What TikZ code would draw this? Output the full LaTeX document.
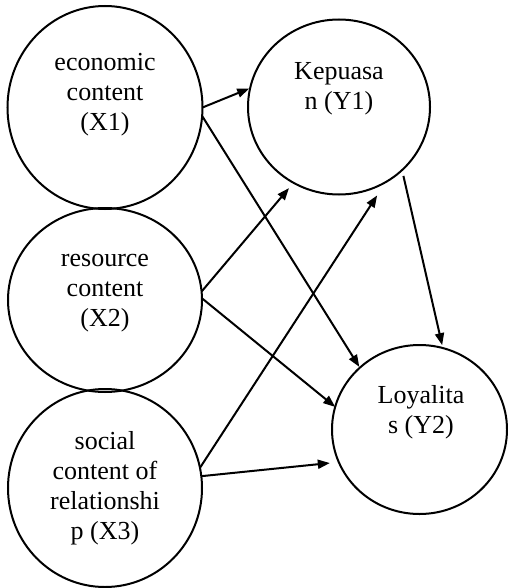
\documentclass[tikz,border=0pt]{standalone}
\usepackage{fontspec}
\setmainfont{Liberation Serif}
\usetikzlibrary{shapes.geometric,arrows.meta}
\begin{document}
\begin{tikzpicture}[x=1pt,y=-1pt,
  latent/.style={draw,ellipse,line width=2pt,inner sep=0pt,outer sep=0pt},
  lbl/.style={align=center,font=\fontsize{26}{30}\selectfont,inner sep=0pt},
  path/.style={line width=2pt,-{Triangle[length=12pt,width=9pt]}}]
\useasboundingbox (0,0) rectangle (507,588);
% latent variables
\node[latent,minimum width=195pt,minimum height=203pt] (x1) at (105,107.5) {};
\node[latent,minimum width=194pt,minimum height=184pt] (x2) at (105,300) {};
\node[latent,minimum width=194pt,minimum height=198pt] (x3) at (105,488) {};
\node[latent,minimum width=182pt,minimum height=175pt] (y1) at (339,107) {};
\node[latent,minimum width=175pt,minimum height=169pt] (y2) at (419.5,429.5) {};
% labels
\node[lbl] (x1t) at (105,95) {economic\\content\\(X1)};
\node[lbl] (x2t) at (105,293) {resource\\content\\(X2)};
\node[lbl] (x3t) at (105,488) {social\\content of\\relationshi\\p (X3)};
\node[lbl] (y1t) at (339,89) {Kepuasa\\n (Y1)};
\node[lbl] (y2t) at (421,412) {Loyalita\\s (Y2)};
% paths
\draw[path,shorten >=1pt] (x1.0) -- (y1.168);
\draw[path,shorten >=1pt] (x1.-5.6) -- (y2.134.5);
\draw[path,shorten >=7pt] (x2.5) -- (y1.239);
\draw[path] (x2.1) -- (y2.165);
\draw[path,shorten >=16pt] (x3.12) -- (y1.-58.3);
\draw[path,shorten >=9pt] (x3.7) -- (y2.202.4);
\draw[path,shorten <=6pt,shorten >=3pt] (y1.-45.8) -- (y2.74.5);
\end{tikzpicture}
\end{document}
